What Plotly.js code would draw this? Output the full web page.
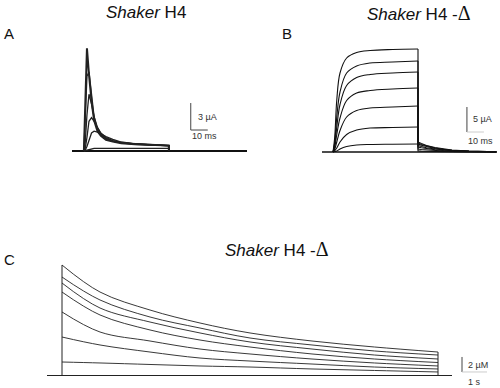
<!DOCTYPE html>
<html>
<head>
<meta charset="utf-8">
<script src="https://cdn.plot.ly/plotly-3.0.1.min.js"></script>
<style>html,body{margin:0;padding:0;background:#fff}#chart{width:500px;height:388px}</style>
</head>
<body>
<div id="chart"></div>
<script>
// ---------- Panel A : Shaker H4 (time ms, current µA) ----------
const tA = [0, 0.8, 1.8, 3, 4.5, 6, 8, 10, 13, 17, 22, 30, 40, 50];
const a1 = [0, 6.0, 11.4, 8.5, 5.5, 3.4, 2.2, 1.7, 1.25, 1.05, 0.85, 0.75, 0.65, 0.6];
const a2 = [0, 3.0, 8.3, 8.8, 6.0, 3.8, 2.4, 1.8, 1.35, 1.1, 0.9, 0.8, 0.7, 0.62];
const a3 = [0, 1.0, 4.0, 6.3, 5.2, 3.8, 2.6, 1.9, 1.4, 1.1, 0.9, 0.75, 0.65, 0.6];
const a4 = [0, 0.3, 1.5, 3.3, 3.7, 3.3, 2.6, 2.0, 1.5, 1.15, 0.95, 0.78, 0.68, 0.6];
const a5 = [0, 0.1, 0.5, 1.3, 2.0, 2.2, 2.1, 1.9, 1.6, 1.3, 1.0, 0.8, 0.65, 0.58];
const a6 = [0, 0.05, 0.1, 0.2, 0.25, 0.3, 0.3, 0.3, 0.3, 0.3, 0.3, 0.3, 0.3, 0.3];
const baseA = [-7, 96];

// ---------- Panel B : Shaker H4 -Δ (time ms, current µA) ----------
const tB = [0, 1, 2.2, 4.1, 8, 13.9, 21.8, 35, 50];
const b1 = [0, 3.0, 10.4, 15.8, 18.8, 19.9, 20.3, 20.5, 20.6];
const b2 = [0, 2.0, 7.0, 12.0, 15.8, 17.2, 17.8, 18.0, 18.2];
const b3 = [0, 1.5, 5.0, 9.5, 13.3, 14.9, 15.5, 15.8, 16.0];
const b4 = [0, 1.0, 3.5, 6.8, 10.3, 11.8, 12.3, 12.6, 12.8];
const b5 = [0, 0.6, 2.0, 4.3, 7.0, 8.3, 8.8, 9.0, 9.2];
const b6 = [0, 0.3, 0.8, 2.0, 3.5, 4.4, 4.8, 4.9, 5.0];
const b7 = [0, 0.1, 0.2, 0.6, 1.1, 1.4, 1.5, 1.55, 1.6];
const tBtail = [50, 52, 55, 60, 65, 70, 80, 96];
const bt1 = [2.0, 1.7, 1.3, 0.9, 0.6, 0.4, 0.2, 0.05];
const bt2 = [1.8, 1.5, 1.2, 0.8, 0.55, 0.35, 0.18, 0.05];
const bt3 = [1.6, 1.35, 1.05, 0.7, 0.5, 0.3, 0.15, 0.05];
const bt4 = [1.3, 1.1, 0.85, 0.6, 0.4, 0.25, 0.12, 0.04];
const bt5 = [1.0, 0.85, 0.65, 0.45, 0.3, 0.2, 0.1, 0.03];
const bt6 = [0.6, 0.5, 0.4, 0.28, 0.2, 0.12, 0.06, 0.02];
const bt7 = [0.2, 0.17, 0.13, 0.09, 0.06, 0.04, 0.02, 0];
const baseB = [-6.5, 96.5];

// ---------- Panel C : Shaker H4 -Δ (time s, µM) ----------
const tC = [0, 1.52, 3.52, 5.52, 7.52, 10, 12.5, 15.04];
const c1 = [14.73, 11.13, 8.73, 7.0, 5.67, 4.6, 3.8, 3.13];
const c2 = [13.13, 10.07, 7.8, 6.33, 5.0, 4.07, 3.27, 2.73];
const c3 = [12.33, 9.0, 7.13, 5.67, 4.47, 3.53, 2.73, 2.2];
const c4 = [11.13, 8.07, 6.07, 4.73, 3.8, 2.87, 2.2, 1.73];
const c5 = [8.47, 5.8, 4.6, 3.53, 2.87, 2.2, 1.67, 1.27];
const c6 = [5.13, 4.07, 3.13, 2.33, 1.93, 1.53, 1.13, 0.87];
const c7 = [1.8, 1.67, 1.47, 1.27, 1.13, 0.87, 0.67, 0.47];
const baseC = [-0.6, 15.6];

// labels
const titleA = "<i>Shaker</i> H4";
const titleB = "<i>Shaker</i> H4 -<span style=\"font-family:'Liberation Serif';font-size:20px\">Δ</span>";
const titleC = titleB;
const scaleA = ["3 µA", "10 ms"];
const scaleB = ["5 µA", "10 ms"];
const scaleC = ["2 µM", "1 s"];

const traces = [];
function addLine(xs, ys, xa, ya, w, col, shape) {
  traces.push({x: xs, y: ys, xaxis: xa, yaxis: ya, type: 'scatter', mode: 'lines',
    line: {color: col || '#111', width: w, shape: shape || 'linear', smoothing: 1},
    hoverinfo: 'skip', showlegend: false});
}
// A
addLine(baseA, [0, 0], 'x', 'y', 2, '#111');
[a6, a5, a4, a3, a2, a1].forEach((v, i) => {
  addLine(tA.concat([50]), v.concat([0]), 'x', 'y', i === 5 ? 2 : 1.3, '#222');
});
// B
addLine(baseB, [0, 0], 'x2', 'y2', 1.6, '#111');
[[b1, bt1], [b2, bt2], [b3, bt3], [b4, bt4], [b5, bt5], [b6, bt6], [b7, bt7]].forEach(p => {
  addLine(tB, p[0], 'x2', 'y2', 1.1, '#111', 'spline');
  addLine([50].concat(tBtail), [p[0][p[0].length - 1]].concat(p[1]), 'x2', 'y2', 1.1, '#111');
});
// C
const tEnd = tC[tC.length - 1];
addLine(baseC, [0, 0], 'x3', 'y3', 1, '#222');
addLine([0, 0], [0, c1[0]], 'x3', 'y3', 1, '#222');
addLine([tEnd, tEnd], [0, c1[c1.length - 1]], 'x3', 'y3', 1, '#222');
[c1, c2, c3, c4, c5, c6, c7].forEach(v => {
  addLine(tC, v, 'x3', 'y3', 0.9, '#222', 'spline');
});

const W = 500, H = 388;
const px = x => x / W, py = y => 1 - y / H;
const hid = {visible: false, fixedrange: true, showgrid: false, zeroline: false};

function ann(text, x, y, size, xa, col) {
  return {text: text, x: px(x), y: py(y), xref: 'paper', yref: 'paper',
    xanchor: xa || 'center', yanchor: 'middle', showarrow: false,
    font: {family: 'Liberation Sans, Arial, sans-serif', size: size, color: col || '#111'}};
}

const layout = {
  width: W, height: H, margin: {l: 0, r: 0, t: 0, b: 0},
  paper_bgcolor: '#fff', plot_bgcolor: 'rgba(0,0,0,0)', showlegend: false,
  xaxis: Object.assign({domain: [px(72), px(247)], range: [-7, 96], anchor: 'y'}, hid),
  yaxis: Object.assign({domain: [py(160), py(40)], range: [-1, 12.33], anchor: 'x'}, hid),
  xaxis2: Object.assign({domain: [px(322), px(497)], range: [-6.5, 96.5], anchor: 'y2'}, hid),
  yaxis2: Object.assign({domain: [py(160), py(40)], range: [-1.6, 22.4], anchor: 'x2'}, hid),
  xaxis3: Object.assign({domain: [px(40), px(495)], range: [-0.88, 17.32], anchor: 'y3'}, hid),
  yaxis3: Object.assign({domain: [py(385), py(255)], range: [-1.267, 16.067], anchor: 'x3'}, hid),
  shapes: [
    {type: 'line', xref: 'x', yref: 'y', x0: 62.9, x1: 62.9, y0: 2.33, y1: 5.33, line: {color: '#444', width: 1}},
    {type: 'line', xref: 'x', yref: 'y', x0: 62.9, x1: 72.9, y0: 2.33, y1: 2.33, line: {color: '#444', width: 1}},
    {type: 'line', xref: 'x2', yref: 'y2', x0: 78.8, x1: 78.8, y0: 4, y1: 9, line: {color: '#444', width: 1}},
    {type: 'line', xref: 'x2', yref: 'y2', x0: 78.8, x1: 88.8, y0: 4, y1: 4, line: {color: '#ccc', width: 1}},
    {type: 'line', xref: 'x3', yref: 'y3', x0: 16.0, x1: 16.0, y0: 0.47, y1: 2.47, line: {color: '#444', width: 1}},
    {type: 'line', xref: 'x3', yref: 'y3', x0: 16.0, x1: 17.0, y0: 0.47, y1: 0.47, line: {color: '#ccc', width: 1}}
  ],
  annotations: [
    ann(titleA, 146, 13, 17),
    ann(titleB, 419, 13, 17),
    ann(titleC, 277, 249, 17),
    ann('A', 9, 33, 15),
    ann('B', 287, 33, 15),
    ann('C', 9, 259, 15),
    ann(scaleA[0], 196, 117, 9, 'left', '#333'),
    ann(scaleA[1], 190, 136, 9, 'left', '#333'),
    ann(scaleB[0], 471, 119, 9, 'left', '#333'),
    ann(scaleB[1], 466, 141, 9, 'left', '#333'),
    ann(scaleC[0], 466, 365, 9, 'left', '#333'),
    ann(scaleC[1], 466, 382, 9, 'left', '#333')
  ]
};

Plotly.newPlot('chart', traces, layout, {staticPlot: true, displayModeBar: false});
</script>
</body>
</html>
